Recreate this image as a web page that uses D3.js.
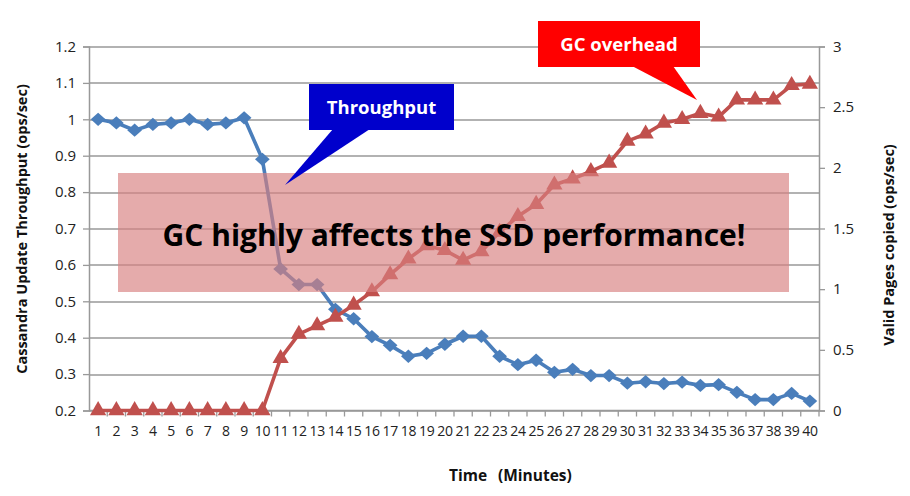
<!DOCTYPE html>
<html>
<head>
<meta charset="utf-8">
<title>GC vs Throughput</title>
<style>
  body { margin: 0; background: #fff; }
  svg text { font-family: "Open Sans", "DejaVu Sans", sans-serif; }
</style>
</head>
<body>
<script src="https://cdn.jsdelivr.net/npm/d3@7"></script>
<script>

// data
var minutes = ["1","2","3","4","5","6","7","8","9","10","11","12","13","14","15","16","17","18","19","20",
               "21","22","23","24","25","26","27","28","29","30","31","32","33","34","35","36","37","38","39","40"];

var throughput = [1.0, 0.99, 0.97, 0.986, 0.99, 1.0, 0.986, 0.99, 1.004, 0.89,
                  0.589, 0.546, 0.546, 0.478, 0.452, 0.403, 0.379, 0.349, 0.357, 0.382,
                  0.404, 0.404, 0.349, 0.326, 0.338, 0.305, 0.313, 0.296, 0.296, 0.275,
                  0.279, 0.274, 0.278, 0.269, 0.271, 0.25, 0.23, 0.23, 0.247, 0.226];

var validPages = [0, 0, 0, 0, 0, 0, 0, 0, 0, 0,
                  0.43, 0.63, 0.7, 0.77, 0.87, 0.98, 1.12, 1.25, 1.36, 1.32,
                  1.24, 1.31, 1.47, 1.6, 1.7, 1.86, 1.91, 1.97, 2.04, 2.22,
                  2.28, 2.37, 2.4, 2.45, 2.42, 2.56, 2.56, 2.56, 2.68, 2.69];

var leftTicks  = [0.2, 0.3, 0.4, 0.5, 0.6, 0.7, 0.8, 0.9, 1, 1.1, 1.2];
var rightTicks = [0, 0.5, 1, 1.5, 2, 2.5, 3];

// layout
var W = 910, H = 496;
var margin = {top: 46.5, right: 91, bottom: 85.5, left: 89};
var width  = W - margin.left - margin.right,
    height = H - margin.top - margin.bottom;

var blue = "#4a7ebb", red = "#c0504d", gridColor = "#999";

var svg = d3.select("body").append("svg")
  .attr("width", W)
  .attr("height", H);

var chart = svg.append("g")
  .attr("transform", "translate(" + margin.left + "," + margin.top + ")");

// scales
var x = d3.scaleBand().domain(minutes).range([0, width]);
var yL = d3.scaleLinear().domain([0.2, 1.2]).range([height, 0]);
var yR = d3.scaleLinear().domain([0, 3]).range([height, 0]);
var cx = function(i){ return x(minutes[i]) + x.bandwidth() / 2; };

// gridlines
chart.append("g")
  .selectAll("line")
  .data(leftTicks)
  .enter()
  .append("line")
  .attr("x1", 0).attr("x2", width)
  .attr("y1", function(d){ return Math.round(yL(d)) + 0.5; })
  .attr("y2", function(d){ return Math.round(yL(d)) + 0.5; })
  .attr("stroke", gridColor)
  .attr("stroke-width", 1.3);

// axes
var axL = chart.append("g")
  .call(d3.axisLeft(yL).tickValues(leftTicks).tickSize(6).tickPadding(7).tickFormat(d3.format("~g")));
var axR = chart.append("g")
  .attr("transform", "translate(" + width + ",0)")
  .call(d3.axisRight(yR).tickValues(rightTicks).tickSize(6).tickPadding(8).tickFormat(d3.format("~g")));
var axB = chart.append("g")
  .attr("transform", "translate(0," + height + ")")
  .call(d3.axisBottom(x).tickSize(0).tickPadding(16));

// category separators on the x axis
axB.selectAll(".sep")
  .data(minutes)
  .enter()
  .append("line")
  .attr("class", "sep")
  .attr("x1", function(d){ return x(d) + x.bandwidth(); })
  .attr("x2", function(d){ return x(d) + x.bandwidth(); })
  .attr("y1", 0).attr("y2", 6)
  .attr("stroke", gridColor)
  .attr("stroke-width", 1.3);

[axL, axR, axB].forEach(function(a){
  a.select(".domain").attr("stroke", gridColor).attr("stroke-width", 1.5);
  a.selectAll(".tick line").attr("stroke", gridColor).attr("stroke-width", 1.3);
  a.selectAll("text").attr("font-size", 15).attr("fill", "#222").style("font-family", "'Open Sans', sans-serif");
});
axB.select(".domain").attr("d", "M0,0H" + width);
axB.selectAll(".tick text").attr("font-size", 14).attr("letter-spacing", -0.3);

// axis titles
svg.append("text")
  .attr("transform", "translate(27," + 229 + ") rotate(-90)")
  .attr("text-anchor", "middle")
  .attr("font-size", 14.5)
  .attr("font-weight", "bold")
  .attr("fill", "#111")
  .text("Cassandra Update Throughput (ops/sec)");

svg.append("text")
  .attr("transform", "translate(894," + 245 + ") rotate(-90)")
  .attr("text-anchor", "middle")
  .attr("font-size", 14.5)
  .attr("font-weight", "bold")
  .attr("fill", "#111")
  .text("Valid Pages copied (ops/sec)");

svg.append("text")
  .attr("x", 449).attr("y", 481)
  .attr("font-size", 15.5)
  .attr("font-weight", "bold")
  .attr("fill", "#111")
  .text("Time");
svg.append("text")
  .attr("x", 498).attr("y", 481)
  .attr("font-size", 15.5)
  .attr("font-weight", "bold")
  .attr("fill", "#111")
  .text("(Minutes)");

// throughput line (left axis)
var lineL = d3.line().x(function(d, i){ return cx(i); }).y(function(d){ return yL(d); });
chart.append("path")
  .datum(throughput)
  .attr("d", lineL)
  .attr("fill", "none")
  .attr("stroke", blue)
  .attr("stroke-width", 3.6)
  .attr("stroke-linejoin", "round");

chart.append("g")
  .selectAll("path")
  .data(throughput)
  .enter()
  .append("path")
  .attr("d", d3.symbol().type(d3.symbolDiamond2).size(125))
  .attr("transform", function(d, i){ return "translate(" + cx(i) + "," + yL(d) + ") scale(1.05,0.95)"; })
  .attr("fill", blue);

// valid pages line (right axis)
var lineR = d3.line().x(function(d, i){ return cx(i); }).y(function(d){ return yR(d); });
chart.append("path")
  .datum(validPages)
  .attr("d", lineR)
  .attr("fill", "none")
  .attr("stroke", red)
  .attr("stroke-width", 3.6)
  .attr("stroke-linejoin", "round");

chart.append("g")
  .selectAll("path")
  .data(validPages)
  .enter()
  .append("path")
  .attr("d", d3.symbol().type(d3.symbolTriangle).size(115))
  .attr("transform", function(d, i){ return "translate(" + cx(i) + "," + yR(d) + ")"; })
  .attr("fill", red);

// overlay banner
svg.append("rect")
  .attr("x", 118).attr("y", 173)
  .attr("width", 671).attr("height", 119)
  .attr("fill", "#d77f7f")
  .attr("opacity", 0.66);

var banner = svg.append("text")
  .attr("x", 454).attr("y", 246)
  .attr("text-anchor", "middle")
  .attr("font-size", 30)
  .attr("font-weight", "bold")
  .attr("fill", "#000")
  .text("GC highly affects the SSD performance!");
// fit the banner text to the width seen in the picture
var bw = banner.node().getComputedTextLength();
if (bw > 0) banner.attr("font-size", 30 * 583 / bw);

// callouts
function callout(box, tail, color, label, fs) {
  var g = svg.append("g");
  g.append("path")
    .attr("d", "M" + tail[0][0] + "," + tail[0][1] + "L" + tail[1][0] + "," + tail[1][1] + "L" + tail[2][0] + "," + tail[2][1] + "Z")
    .attr("fill", color);
  g.append("rect")
    .attr("x", box[0]).attr("y", box[1])
    .attr("width", box[2]).attr("height", box[3])
    .attr("fill", color);
  g.append("text")
    .attr("x", box[0] + box[2] / 2)
    .attr("y", box[1] + box[3] / 2 + fs * 0.36)
    .attr("text-anchor", "middle")
    .attr("font-size", fs)
    .attr("font-weight", "bold")
    .attr("fill", "#fff")
    .text(label);
}

callout([309, 84, 145, 46], [[333, 129], [370, 129], [285, 185]], "#0000cc", "Throughput", 18.5);
callout([538, 21, 162, 46], [[632, 66], [673, 66], [697, 100]], "#ff0000", "GC overhead", 18.5);

</script>
</body>
</html>
